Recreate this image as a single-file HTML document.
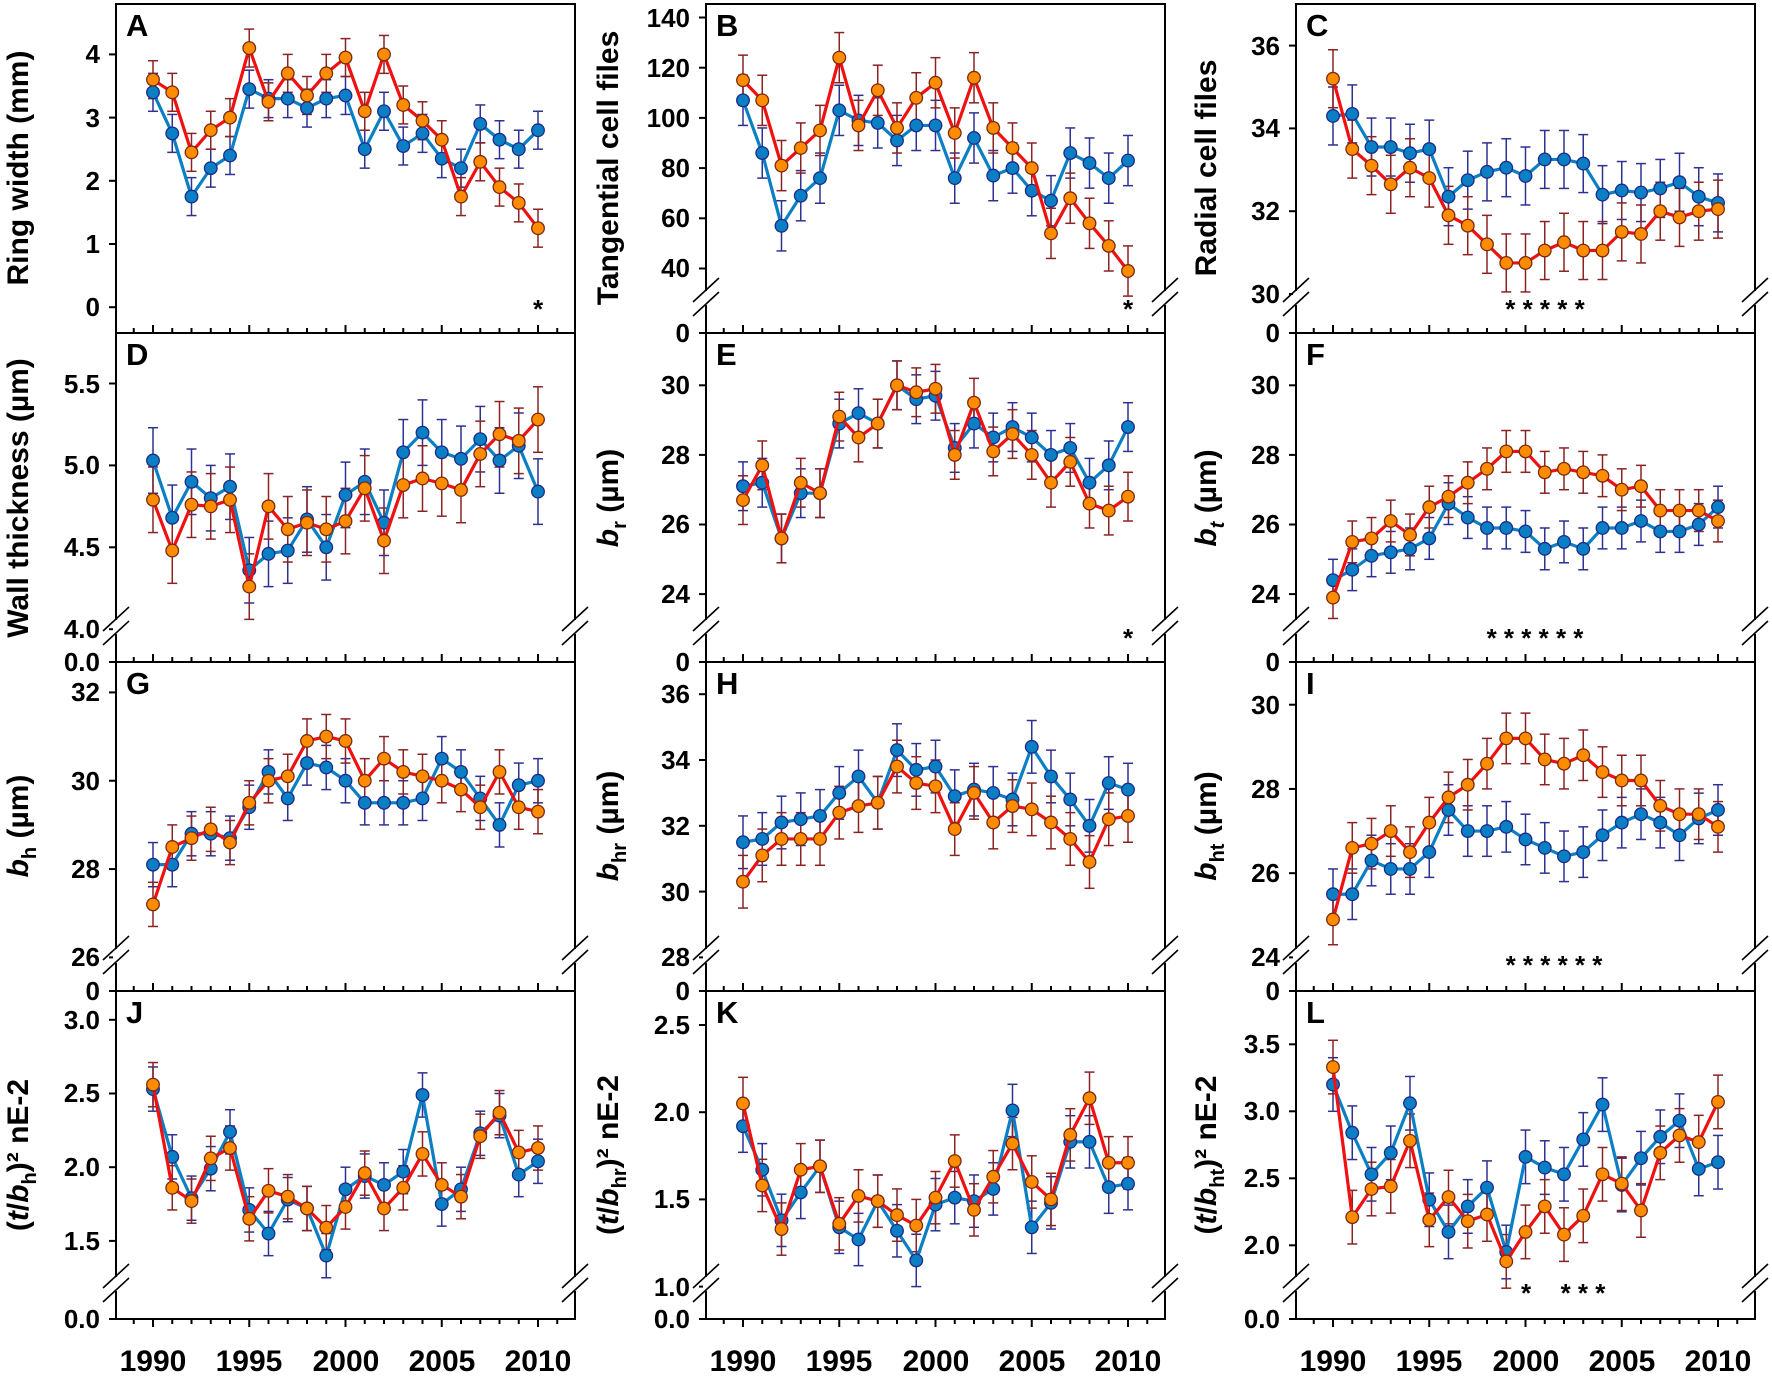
<!DOCTYPE html>
<html><head><meta charset="utf-8"><style>
html,body{margin:0;padding:0;background:#fff}
svg{display:block}
text{font-family:"Liberation Sans",Arial,sans-serif;font-weight:bold;fill:#000}
.yt{font-size:26px;text-anchor:end}
.xt{font-size:30px;text-anchor:middle}
.ti{font-size:30px;text-anchor:middle}
.pl{font-size:31px}
.st{font-size:26px;text-anchor:middle}
</style></head><body>
<svg id="s" width="1772" height="1376" viewBox="0 0 1772 1376" xmlns="http://www.w3.org/2000/svg">
<g id="g"></g>
<text class="pl" x="126" y="36">A</text><text class="pl" x="716" y="36">B</text><text class="pl" x="1306" y="36">C</text>
<text class="pl" x="126" y="365">D</text><text class="pl" x="716" y="365">E</text><text class="pl" x="1306" y="365">F</text>
<text class="pl" x="126" y="694">G</text><text class="pl" x="716" y="694">H</text><text class="pl" x="1306" y="694">I</text>
<text class="pl" x="126" y="1023">J</text><text class="pl" x="716" y="1023">K</text><text class="pl" x="1306" y="1023">L</text>
<text class="yt" x="100" y="316">0</text><text class="yt" x="100" y="253">1</text><text class="yt" x="100" y="190">2</text><text class="yt" x="100" y="127">3</text><text class="yt" x="100" y="63">4</text>
<text class="yt" x="100" y="671">0.0</text><text class="yt" x="100" y="638">4.0</text><text class="yt" x="100" y="556">4.5</text><text class="yt" x="100" y="474">5.0</text><text class="yt" x="100" y="393">5.5</text>
<text class="yt" x="100" y="1000">0</text><text class="yt" x="100" y="966">26</text><text class="yt" x="100" y="878">28</text><text class="yt" x="100" y="790">30</text><text class="yt" x="100" y="701">32</text>
<text class="yt" x="100" y="1328">0.0</text><text class="yt" x="100" y="1250">1.5</text><text class="yt" x="100" y="1176">2.0</text><text class="yt" x="100" y="1102">2.5</text><text class="yt" x="100" y="1029">3.0</text>
<text class="yt" x="690" y="342">0</text><text class="yt" x="690" y="277">40</text><text class="yt" x="690" y="227">60</text><text class="yt" x="690" y="177">80</text><text class="yt" x="690" y="127">100</text><text class="yt" x="690" y="77">120</text><text class="yt" x="690" y="27">140</text>
<text class="yt" x="690" y="671">0</text><text class="yt" x="690" y="603">24</text><text class="yt" x="690" y="533">26</text><text class="yt" x="690" y="464">28</text><text class="yt" x="690" y="394">30</text>
<text class="yt" x="690" y="1000">0</text><text class="yt" x="690" y="966">28</text><text class="yt" x="690" y="901">30</text><text class="yt" x="690" y="835">32</text><text class="yt" x="690" y="769">34</text><text class="yt" x="690" y="703">36</text>
<text class="yt" x="690" y="1328">0.0</text><text class="yt" x="690" y="1296">1.0</text><text class="yt" x="690" y="1208">1.5</text><text class="yt" x="690" y="1121">2.0</text><text class="yt" x="690" y="1034">2.5</text>
<text class="yt" x="1280" y="342">0</text><text class="yt" x="1280" y="303">30</text><text class="yt" x="1280" y="220">32</text><text class="yt" x="1280" y="137">34</text><text class="yt" x="1280" y="55">36</text>
<text class="yt" x="1280" y="671">0</text><text class="yt" x="1280" y="603">24</text><text class="yt" x="1280" y="533">26</text><text class="yt" x="1280" y="464">28</text><text class="yt" x="1280" y="394">30</text>
<text class="yt" x="1280" y="1000">0</text><text class="yt" x="1280" y="966">24</text><text class="yt" x="1280" y="882">26</text><text class="yt" x="1280" y="798">28</text><text class="yt" x="1280" y="714">30</text>
<text class="yt" x="1280" y="1328">0.0</text><text class="yt" x="1280" y="1254">2.0</text><text class="yt" x="1280" y="1187">2.5</text><text class="yt" x="1280" y="1120">3.0</text><text class="yt" x="1280" y="1053">3.5</text>
<text class="xt" x="153" y="1371">1990</text><text class="xt" x="249" y="1371">1995</text><text class="xt" x="346" y="1371">2000</text><text class="xt" x="442" y="1371">2005</text><text class="xt" x="538" y="1371">2010</text>
<text class="xt" x="743" y="1371">1990</text><text class="xt" x="839" y="1371">1995</text><text class="xt" x="936" y="1371">2000</text><text class="xt" x="1032" y="1371">2005</text><text class="xt" x="1128" y="1371">2010</text>
<text class="xt" x="1333" y="1371">1990</text><text class="xt" x="1429" y="1371">1995</text><text class="xt" x="1526" y="1371">2000</text><text class="xt" x="1622" y="1371">2005</text><text class="xt" x="1718" y="1371">2010</text>
<text class="ti" transform="translate(28,168) rotate(-90)">Ring width (mm)</text>
<text class="ti" transform="translate(28,498) rotate(-90)">Wall thickness (µm)</text>
<text class="ti" transform="translate(28,826) rotate(-90)"><tspan font-style="italic">b</tspan><tspan font-size="20" dy="8">h</tspan><tspan dy="-8"> (µm)</tspan></text>
<text class="ti" transform="translate(28,1155) rotate(-90)">(<tspan font-style="italic">t</tspan>/<tspan font-style="italic">b</tspan><tspan font-size="20" dy="8">h</tspan><tspan dy="-8">)² nE-2</tspan></text>
<text class="ti" transform="translate(618,168) rotate(-90)">Tangential cell files</text>
<text class="ti" transform="translate(618,498) rotate(-90)"><tspan font-style="italic">b</tspan><tspan font-size="20" dy="8">r</tspan><tspan dy="-8"> (µm)</tspan></text>
<text class="ti" transform="translate(618,826) rotate(-90)"><tspan font-style="italic">b</tspan><tspan font-size="20" dy="8">hr</tspan><tspan dy="-8"> (µm)</tspan></text>
<text class="ti" transform="translate(618,1155) rotate(-90)">(<tspan font-style="italic">t</tspan>/<tspan font-style="italic">b</tspan><tspan font-size="20" dy="8">hr</tspan><tspan dy="-8">)² nE-2</tspan></text>
<text class="ti" transform="translate(1216,168) rotate(-90)">Radial cell files</text>
<text class="ti" transform="translate(1216,498) rotate(-90)"><tspan font-style="italic">b</tspan><tspan font-size="20" dy="8" font-style="italic">t</tspan><tspan dy="-8"> (µm)</tspan></text>
<text class="ti" transform="translate(1216,826) rotate(-90)"><tspan font-style="italic">b</tspan><tspan font-size="20" dy="8">ht</tspan><tspan dy="-8"> (µm)</tspan></text>
<text class="ti" transform="translate(1216,1155) rotate(-90)">(<tspan font-style="italic">t</tspan>/<tspan font-style="italic">b</tspan><tspan font-size="20" dy="8">ht</tspan><tspan dy="-8">)² nE-2</tspan></text>
<text class="st" x="538" y="318">*</text>
<text class="st" x="1128" y="318">*</text>
<text class="st" x="1545" y="318">* * * * *</text>
<text class="st" x="1128" y="647">*</text>
<text class="st" x="1535" y="647">* * * * * *</text>
<text class="st" x="1554" y="974">* * * * * *</text>
<text class="st" x="1526" y="1302">*</text>
<text class="st" x="1583" y="1302">* * *</text>
</svg>
<script>
var NS="http://www.w3.org/2000/svg",G=document.getElementById("g");
function el(t,a){var e=document.createElementNS(NS,t);for(var k in a)e.setAttribute(k,a[k]);G.appendChild(e);return e;}
var L=[116,706,1296],T=[4,333,662,991],B=[333,662,991,1319];
var P=[
[0,0,0,307.2,4,54.4,0.3,false,[3.4,2.75,1.75,2.2,2.4,3.45,3.3,3.3,3.15,3.3,3.35,2.5,3.1,2.55,2.75,2.35,2.2,2.9,2.65,2.5,2.8],[3.6,3.4,2.45,2.8,3.0,4.1,3.25,3.7,3.35,3.7,3.95,3.1,4.0,3.2,2.95,2.65,1.75,2.3,1.9,1.65,1.25]],
[0,1,40,268.5,140,17.5,10,true,[107,86,57,69,76,103,99,98,91,97,97,76,92,77,80,71,67,86,82,76,83],[115,107,81,88,95,124,97,111,96,108,114,94,116,96,88,80,54,68,58,49,39]],
[0,2,30,294,36,45.6,0.7,true,[34.3,34.35,33.55,33.55,33.4,33.5,32.35,32.75,32.95,33.05,32.85,33.25,33.25,33.15,32.4,32.5,32.45,32.55,32.7,32.35,32.2],[35.2,33.5,33.1,32.65,33.05,32.8,31.9,31.65,31.2,30.75,30.75,31.05,31.25,31.05,31.05,31.5,31.45,32.0,31.85,32.0,32.05]],
[1,0,4,629.2,5.5,383.5,0.2,true,[5.03,4.68,4.9,4.8,4.87,4.36,4.46,4.48,4.67,4.5,4.82,4.9,4.65,5.08,5.2,5.08,5.04,5.16,5.03,5.12,4.84],[4.79,4.48,4.76,4.75,4.79,4.26,4.75,4.61,4.65,4.61,4.66,4.86,4.54,4.88,4.92,4.89,4.85,5.07,5.19,5.15,5.28]],
[1,1,24,594.1,30,385.3,0.7,true,[27.1,27.2,25.6,26.9,26.9,28.9,29.2,28.9,30.0,29.6,29.7,28.2,28.9,28.5,28.8,28.5,28.0,28.2,27.2,27.7,28.8],[26.7,27.7,25.6,27.2,26.9,29.1,28.5,28.9,30.0,29.8,29.9,28.0,29.5,28.1,28.6,28.0,27.2,27.8,26.6,26.4,26.8]],
[1,2,24,594.1,30,385.3,0.6,true,[24.4,24.7,25.1,25.2,25.3,25.6,26.6,26.2,25.9,25.9,25.8,25.3,25.5,25.3,25.9,25.9,26.1,25.8,25.8,26.0,26.5],[23.9,25.5,25.6,26.1,25.7,26.5,26.8,27.2,27.6,28.1,28.1,27.5,27.6,27.5,27.4,27.0,27.1,26.4,26.4,26.4,26.1]],
[2,0,26,957.4,32,692.4,0.5,true,[28.1,28.1,28.8,28.8,28.7,29.4,30.2,29.6,30.4,30.3,30.0,29.5,29.5,29.5,29.6,30.5,30.2,29.6,29.0,29.9,30.0],[27.2,28.5,28.7,28.9,28.6,29.5,30.0,30.1,30.9,31.0,30.9,30.0,30.5,30.2,30.1,30.0,29.8,29.4,30.2,29.4,29.3]],
[2,1,28,957.4,36,694.2,0.8,true,[31.5,31.6,32.1,32.2,32.3,33.0,33.5,32.7,34.3,33.7,33.8,32.9,33.1,33.0,32.8,34.4,33.5,32.8,32.0,33.3,33.1],[30.3,31.1,31.6,31.6,31.6,32.4,32.6,32.7,33.8,33.3,33.2,31.9,33.0,32.1,32.6,32.5,32.1,31.6,30.9,32.2,32.3]],
[2,2,24,957.4,30,704.7,0.6,true,[25.5,25.5,26.3,26.1,26.1,26.5,27.5,27.0,27.0,27.1,26.8,26.6,26.4,26.5,26.9,27.2,27.4,27.2,26.9,27.3,27.5],[24.9,26.6,26.7,27.0,26.5,27.2,27.8,28.1,28.6,29.2,29.2,28.7,28.6,28.8,28.4,28.2,28.2,27.6,27.4,27.4,27.1]],
[3,0,1.5,1240.9,3,1019.8,0.15,true,[2.53,2.07,1.79,1.99,2.24,1.71,1.55,1.78,1.72,1.40,1.85,1.94,1.88,1.97,2.49,1.75,1.85,2.23,2.35,1.95,2.04],[2.56,1.86,1.77,2.06,2.13,1.65,1.84,1.80,1.72,1.59,1.73,1.96,1.72,1.86,2.09,1.88,1.80,2.21,2.37,2.10,2.13]],
[3,1,1,1286.6,2.5,1025,0.15,true,[1.92,1.67,1.38,1.54,1.69,1.34,1.27,1.49,1.32,1.15,1.47,1.51,1.49,1.56,2.01,1.34,1.48,1.83,1.83,1.57,1.59],[2.05,1.58,1.33,1.67,1.69,1.36,1.52,1.49,1.41,1.35,1.51,1.72,1.44,1.63,1.82,1.60,1.50,1.87,2.08,1.71,1.71]],
[3,2,2,1245.3,3.5,1044.3,0.2,true,[3.20,2.84,2.53,2.69,3.06,2.34,2.10,2.29,2.43,1.95,2.66,2.58,2.53,2.79,3.05,2.45,2.65,2.81,2.93,2.57,2.62],[3.33,2.21,2.42,2.44,2.78,2.19,2.36,2.18,2.23,1.88,2.10,2.29,2.08,2.22,2.53,2.46,2.26,2.69,2.82,2.77,3.07]]
];
var lbl=[[0,1,2,3,4],[0,40,60,80,100,120,140],[0,30,32,34,36],[0,4,4.5,5,5.5],[0,24,26,28,30],[0,24,26,28,30],[0,26,28,30,32],[0,28,30,32,34,36],[0,24,26,28,30],[0,1.5,2,2.5,3],[0,1,1.5,2,2.5],[0,2,2.5,3,3.5]];
P.forEach(function(p,i){
 var r=p[0],c=p[1],v1=p[2],y1=p[3],v2=p[4],y2=p[5],e=p[6],brk=p[7];
 var l=L[c],R=l+459,t=T[r],b=B[r];
 function Y(v){return y1+(v-v1)*(y2-y1)/(v2-v1);}
 function X(k){return l+37+k*19.25;}
 el("rect",{x:l,y:t,width:459,height:b-t,fill:"none",stroke:"#000","stroke-width":2});
 lbl[i].forEach(function(v){var yy=(v===0&&brk)?b:Y(v);el("line",{x1:l-7,x2:l,y1:yy,y2:yy,stroke:"#000","stroke-width":2});});
 for(var k=-1;k<=21;k++){var xx=X(k);var big=(k%5===0);if(r===3){el("line",{x1:xx,x2:xx,y1:b,y2:b+(big?8:5),stroke:"#000","stroke-width":2});}else{el("line",{x1:xx,x2:xx,y1:b,y2:b-(big?8:5),stroke:"#000","stroke-width":2});}}
 if(brk){[l,R].forEach(function(x0){var yb=b-34;el("rect",{x:x0-3,y:yb-8,width:6,height:14,fill:"#fff"});
  el("line",{x1:x0-13,y1:yb+3,x2:x0+13,y2:yb-21,stroke:"#000","stroke-width":1.6});
  el("line",{x1:x0-13,y1:yb+17,x2:x0+13,y2:yb-7,stroke:"#000","stroke-width":1.6});});}
 var sets=[[p[8],"#0b7fc4","#0b7fc4","#1c2a8a","#2e3192"],[p[9],"#f01010","#ff8c00","#7a2a10","#8b2323"]];
 sets.forEach(function(s){s[0].forEach(function(v,k){var x=X(k),a=Y(v+e),bb=Y(v-e);
  el("line",{x1:x,x2:x,y1:a,y2:bb,stroke:s[4],"stroke-width":1.5});
  el("line",{x1:x-5,x2:x+5,y1:a,y2:a,stroke:s[4],"stroke-width":1.5});
  el("line",{x1:x-5,x2:x+5,y1:bb,y2:bb,stroke:s[4],"stroke-width":1.5});});});
 sets.forEach(function(s){var pts=s[0].map(function(v,k){return X(k)+","+Y(v);}).join(" ");
  el("polyline",{points:pts,fill:"none",stroke:s[1],"stroke-width":3.2,"stroke-linejoin":"round"});
  s[0].forEach(function(v,k){el("circle",{cx:X(k),cy:Y(v),r:6.3,fill:s[2],stroke:s[3],"stroke-width":1.3});});});
});
</script>
</body></html>
